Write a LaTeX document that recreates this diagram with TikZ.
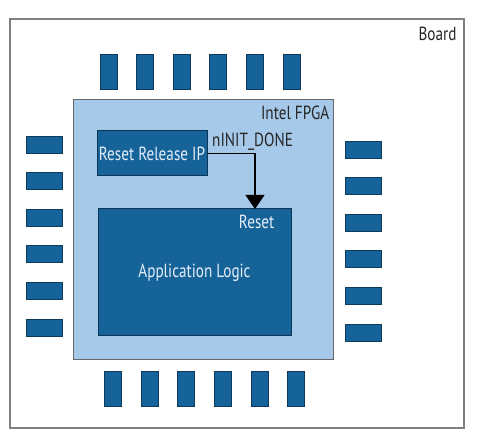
\documentclass[tikz,border=0pt]{standalone}
\usepackage{fontspec}
\setmainfont[FakeStretch=0.8]{PT Sans}
\usetikzlibrary{positioning, arrows.meta}
\definecolor{pinblue}{HTML}{16639A}
\definecolor{fpgablue}{HTML}{A7C9E9}
\definecolor{edgegray}{HTML}{808080}
\definecolor{lighttext}{HTML}{E4EEF8}
\tikzset{
	pin/.style={draw=pinblue!60!black, fill=pinblue, rectangle, inner sep=0pt, line width=0.8pt},
	vpin/.style={pin, minimum width=17pt, minimum height=35pt},
	hpin/.style={pin, minimum width=36pt, minimum height=17pt},
	block/.style={draw=pinblue!55!black, fill=pinblue, rectangle, inner sep=0pt, line width=1pt, text=lighttext, font=\fontsize{19}{22}\selectfont},
	% labels in the corners
	lbl/.style={inner sep=1pt, font=\fontsize{19}{22}\selectfont, text=black!85},
}

\begin{document}
\begin{tikzpicture}[x=1pt, y=-1pt]
	\useasboundingbox (0,0) rectangle (480,438);
	\node (board) [draw=edgegray, line width=1.3pt, rectangle, minimum width=454pt, minimum height=409pt] at (237,223.5) {};
	\node (fpga) [draw=black!60, fill=fpgablue, line width=1pt, rectangle, minimum width=260pt, minimum height=260pt] at (203,230) {};
	
	% pins round the chip
	\foreach \i in {0,...,5} {
		\node (top\i) [vpin] at (108.5+36.6*\i, 71.5) {};
		\node (bot\i) [vpin] at (113+36.6*\i, 389) {};
		\node (lft\i) [hpin] at (44, 144.5+36.6*\i) {};
		\node (rgt\i) [hpin] at (363, 149.5+36.6*\i) {};
	}
	
	\node (rrip) [block, minimum width=110pt, minimum height=45pt] at (152,153.5) {Reset Release IP};
	\node (applogic) [block, minimum width=193pt, minimum height=127pt] at (194.5,272.5) {Application Logic};
	
	\node (boardlbl) [lbl, anchor=north east] at ([xshift=-7pt, yshift=-8pt]board.north east) {Board};
	\node (fpgalbl) [lbl, anchor=north east] at ([xshift=-3pt, yshift=-5pt]fpga.north east) {Intel FPGA};
	\node (nid) [lbl, anchor=west] at (211,142) {nINIT\_DONE};
	\node (rst) [lbl, anchor=north east, text=lighttext] at ([xshift=-16pt, yshift=-5pt]applogic.north east) {Reset};
	
	\coordinate (rstin) at (255,209);
	\begin{scope}[line width=1.2pt, black, -{Triangle[length=14pt, width=19pt]}]
		\draw (rrip.east) -| (rstin);
	\end{scope}
\end{tikzpicture}
\end{document}
